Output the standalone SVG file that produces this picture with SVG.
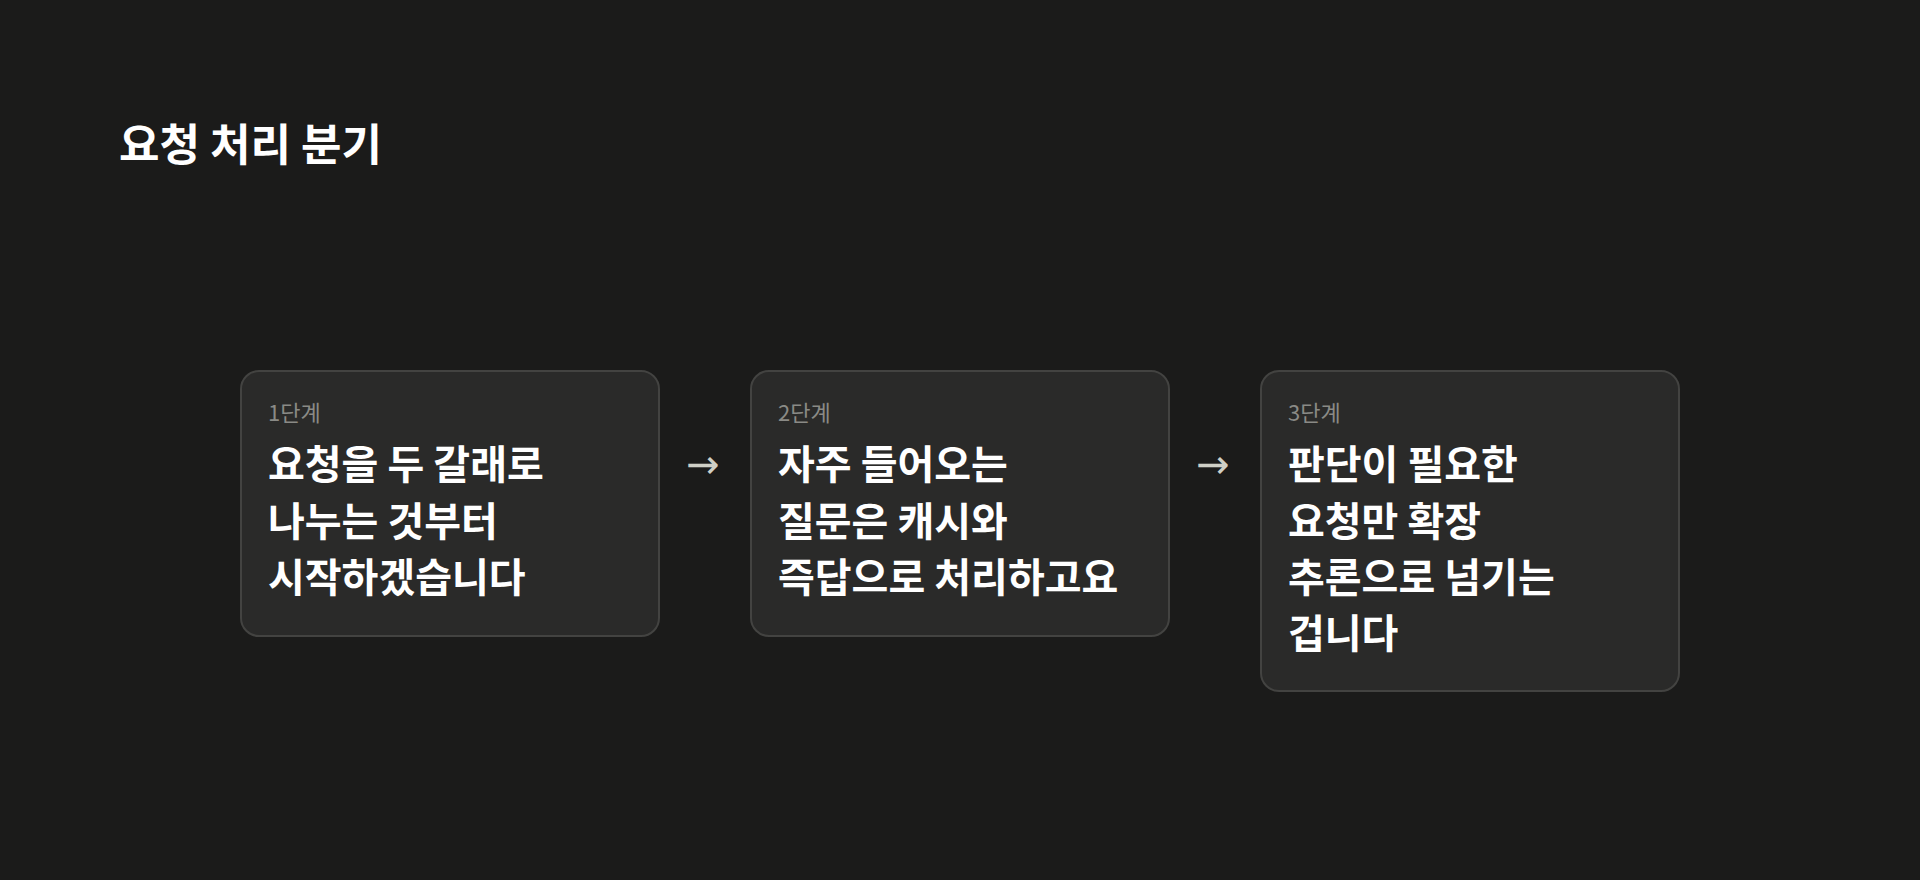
<svg xmlns="http://www.w3.org/2000/svg" width="1920" height="880" viewBox="0 0 1920 880">
<style>
.t{font-family:"Noto Sans CJK KR","Noto Sans",sans-serif;fill:#ffffff;font-weight:700}
.box{fill:#2a2a29;stroke:#434341;stroke-width:2}
.lab{font-family:"Noto Sans CJK KR","Noto Sans",sans-serif;fill:#8a8a86;font-size:22px}
.main{font-family:"Noto Sans CJK KR","Noto Sans",sans-serif;fill:#ffffff;font-size:40px;font-weight:700}
.arr{font-family:"DejaVu Sans",sans-serif;fill:#cfcfc6;font-size:40px}
</style>
<rect width="1920" height="880" fill="#1b1b1a"/>
<text class="t" x="119" y="161" font-size="44">요청 처리 분기</text>
<g id="node1">
<rect class="box" x="241" y="371" width="418" height="265" rx="18"/>
<text class="lab" x="268" y="421">1단계</text>
<text class="main" x="268" y="479">요청을 두 갈래로</text>
<text class="main" x="268" y="536">나누는 것부터</text>
<text class="main" x="268" y="592">시작하겠습니다</text>
</g>
<g id="node2">
<rect class="box" x="751" y="371" width="418" height="265" rx="18"/>
<text class="lab" x="778" y="421">2단계</text>
<text class="main" x="778" y="479">자주 들어오는</text>
<text class="main" x="778" y="536">질문은 캐시와</text>
<text class="main" x="778" y="592">즉답으로 처리하고요</text>
</g>
<g id="node3">
<rect class="box" x="1261" y="371" width="418" height="320" rx="18"/>
<text class="lab" x="1288" y="421">3단계</text>
<text class="main" x="1288" y="479">판단이 필요한</text>
<text class="main" x="1288" y="536">요청만 확장</text>
<text class="main" x="1288" y="592">추론으로 넘기는</text>
<text class="main" x="1288" y="648">겁니다</text>
</g>
<g id="connectors">
<text class="arr" x="703" y="478" text-anchor="middle">→</text>
<text class="arr" x="1213" y="478" text-anchor="middle">→</text>
</g>
</svg>
